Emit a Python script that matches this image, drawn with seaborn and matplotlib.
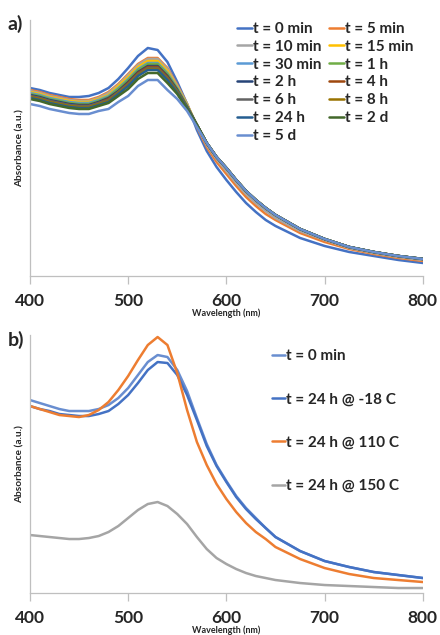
"""UV-vis absorbance spectra: a) stability over time, b) after 24 h at different temperatures."""
from matplotlib import pyplot as plt
import pandas as pd
import seaborn as sns


wavelength = [400, 410, 420, 430, 440, 450, 460, 470, 480, 490, 500, 510, 520, 530, 540,
              550, 560, 570, 580, 590, 600, 610, 620, 630, 640, 650, 675, 700, 725, 750,
              775, 800]

# panel a: absorbance (a.u.)
time_labels = ["t = 0 min", "t = 5 min", "t = 10 min", "t = 15 min", "t = 30 min",
               "t = 1 h", "t = 2 h", "t = 4 h", "t = 6 h", "t = 8 h",
               "t = 24 h", "t = 2 d", "t = 5 d"]
abs_0min = [1.88, 1.86, 1.83, 1.81, 1.79, 1.79, 1.80, 1.83, 1.88, 1.97, 2.08, 2.20, 2.28,
            2.26, 2.14, 1.94, 1.72, 1.46, 1.25, 1.09, 0.96, 0.84, 0.73, 0.64, 0.56, 0.50,
            0.38, 0.30, 0.24, 0.20, 0.16, 0.13]
abs_5min = [1.86, 1.84, 1.81, 1.79, 1.77, 1.76, 1.76, 1.79, 1.84, 1.92, 2.02, 2.12, 2.18,
            2.18, 2.08, 1.91, 1.72, 1.49, 1.29, 1.14, 1.02, 0.90, 0.79, 0.70, 0.62, 0.56,
            0.43, 0.34, 0.27, 0.22, 0.18, 0.15]
abs_10min = [1.85, 1.83, 1.80, 1.78, 1.76, 1.75, 1.75, 1.78, 1.83, 1.91, 2.01, 2.11, 2.17,
             2.17, 2.07, 1.90, 1.72, 1.50, 1.31, 1.17, 1.05, 0.93, 0.82, 0.73, 0.65, 0.58,
             0.45, 0.36, 0.28, 0.23, 0.19, 0.16]
abs_15min = [1.84, 1.82, 1.79, 1.77, 1.75, 1.74, 1.74, 1.77, 1.81, 1.90, 1.99, 2.09, 2.15,
             2.15, 2.05, 1.89, 1.71, 1.51, 1.33, 1.19, 1.08, 0.96, 0.85, 0.76, 0.68, 0.61,
             0.47, 0.37, 0.29, 0.24, 0.20, 0.17]
abs_30min = [1.83, 1.81, 1.78, 1.76, 1.74, 1.73, 1.73, 1.76, 1.80, 1.88, 1.97, 2.07, 2.13,
             2.13, 2.03, 1.88, 1.70, 1.51, 1.33, 1.19, 1.08, 0.96, 0.85, 0.76, 0.68, 0.61,
             0.47, 0.37, 0.29, 0.24, 0.20, 0.17]
abs_1h = [1.82, 1.80, 1.77, 1.75, 1.73, 1.72, 1.72, 1.75, 1.79, 1.87, 1.96, 2.06, 2.12,
          2.12, 2.02, 1.87, 1.70, 1.51, 1.33, 1.19, 1.08, 0.96, 0.85, 0.76, 0.68, 0.61,
          0.47, 0.37, 0.29, 0.24, 0.20, 0.17]
abs_2h = [1.81, 1.79, 1.76, 1.74, 1.72, 1.71, 1.71, 1.74, 1.78, 1.85, 1.94, 2.04, 2.10,
          2.10, 2.00, 1.86, 1.69, 1.51, 1.33, 1.19, 1.08, 0.96, 0.85, 0.76, 0.68, 0.61,
          0.47, 0.37, 0.29, 0.24, 0.20, 0.17]
abs_4h = [1.80, 1.78, 1.75, 1.73, 1.71, 1.70, 1.70, 1.73, 1.77, 1.84, 1.93, 2.03, 2.09,
          2.09, 1.99, 1.85, 1.69, 1.51, 1.33, 1.19, 1.08, 0.96, 0.85, 0.76, 0.68, 0.61,
          0.47, 0.37, 0.29, 0.24, 0.20, 0.17]
abs_6h = [1.80, 1.78, 1.75, 1.73, 1.71, 1.70, 1.70, 1.73, 1.76, 1.84, 1.92, 2.02, 2.08,
          2.08, 1.98, 1.85, 1.69, 1.51, 1.33, 1.19, 1.08, 0.96, 0.85, 0.76, 0.68, 0.61,
          0.47, 0.37, 0.29, 0.24, 0.20, 0.17]
abs_8h = [1.79, 1.77, 1.74, 1.72, 1.70, 1.69, 1.69, 1.72, 1.75, 1.83, 1.91, 2.01, 2.07,
          2.07, 1.97, 1.84, 1.68, 1.51, 1.33, 1.19, 1.08, 0.96, 0.85, 0.76, 0.68, 0.61,
          0.47, 0.37, 0.29, 0.24, 0.20, 0.17]
abs_24h = [1.78, 1.76, 1.73, 1.71, 1.69, 1.68, 1.68, 1.71, 1.74, 1.82, 1.90, 2.00, 2.06,
           2.06, 1.96, 1.83, 1.68, 1.51, 1.33, 1.19, 1.08, 0.96, 0.85, 0.76, 0.68, 0.61,
           0.47, 0.37, 0.29, 0.24, 0.20, 0.17]
abs_2d = [1.77, 1.75, 1.72, 1.70, 1.68, 1.67, 1.67, 1.70, 1.73, 1.80, 1.87, 1.97, 2.03,
          2.03, 1.93, 1.82, 1.67, 1.51, 1.33, 1.19, 1.08, 0.96, 0.85, 0.76, 0.68, 0.61,
          0.47, 0.37, 0.29, 0.24, 0.20, 0.17]
abs_5d = [1.72, 1.70, 1.67, 1.65, 1.63, 1.62, 1.62, 1.65, 1.67, 1.74, 1.80, 1.90, 1.96,
          1.96, 1.86, 1.77, 1.65, 1.49, 1.33, 1.19, 1.08, 0.96, 0.85, 0.76, 0.68, 0.61,
          0.47, 0.37, 0.29, 0.24, 0.20, 0.17]
time_colors = ["#4472C4", "#ED7D31", "#A5A5A5", "#FFC000", "#5B9BD5", "#70AD47",
               "#264478", "#9E480E", "#636363", "#997300", "#255E91", "#43682B",
               "#698ED0"]

# panel b
temp_labels = ["t = 0 min", "t = 24 h @ -18 C", "t = 24 h @ 110 C", "t = 24 h @ 150 C"]
abs_ref = [1.93, 1.90, 1.87, 1.84, 1.82, 1.82, 1.82, 1.84, 1.88, 1.95, 2.05, 2.18, 2.31,
           2.38, 2.36, 2.23, 2.02, 1.75, 1.49, 1.28, 1.12, 0.97, 0.85, 0.75, 0.65, 0.56,
           0.42, 0.32, 0.26, 0.21, 0.18, 0.15]
abs_m18 = [1.87, 1.84, 1.82, 1.79, 1.78, 1.77, 1.77, 1.79, 1.82, 1.89, 1.98, 2.10, 2.23,
           2.31, 2.30, 2.18, 1.98, 1.73, 1.47, 1.27, 1.11, 0.96, 0.84, 0.74, 0.65, 0.56,
           0.42, 0.32, 0.26, 0.21, 0.18, 0.15]
abs_110 = [1.87, 1.84, 1.81, 1.78, 1.77, 1.76, 1.78, 1.83, 1.91, 2.03, 2.17, 2.33, 2.48,
           2.56, 2.48, 2.20, 1.83, 1.51, 1.28, 1.09, 0.94, 0.81, 0.70, 0.61, 0.54, 0.46,
           0.34, 0.25, 0.19, 0.15, 0.13, 0.11]
abs_150 = [0.58, 0.57, 0.56, 0.55, 0.54, 0.54, 0.55, 0.57, 0.61, 0.67, 0.75, 0.83, 0.89,
           0.91, 0.87, 0.79, 0.69, 0.56, 0.44, 0.35, 0.29, 0.24, 0.20, 0.17, 0.15, 0.13,
           0.10, 0.08, 0.07, 0.06, 0.05, 0.05]
temp_colors = ["#698ED0", "#4472C4", "#ED7D31", "#A5A5A5"]


def long_df(labels, series):
    rows = []
    for lab, vals in zip(labels, series):
        for w, v in zip(wavelength, vals):
            rows.append({"Wavelength": w, "Absorbance": v, "Sample": lab})
    return pd.DataFrame(rows)


df_a = long_df(time_labels, [abs_0min, abs_5min, abs_10min, abs_15min, abs_30min, abs_1h,
                             abs_2h, abs_4h, abs_6h, abs_8h, abs_24h, abs_2d, abs_5d])
df_b = long_df(temp_labels, [abs_ref, abs_m18, abs_110, abs_150])

sns.set_style("white")
plt.rcParams["font.family"] = ["Lato", "DejaVu Sans"]
plt.rcParams["font.weight"] = "bold"

fig = plt.figure(figsize=(4.4, 6.35), dpi=100)
ax_a = fig.add_axes([0.068, 0.5654, 0.893, 0.4031])
ax_b = fig.add_axes([0.068, 0.0661, 0.893, 0.4063])


def draw(ax, df, labels, colors, ylim):
    sns.lineplot(data=df, x="Wavelength", y="Absorbance", hue="Sample",
                 hue_order=labels, palette=colors, estimator=None, sort=False,
                 linewidth=1.8, legend=False, ax=ax)
    for line in ax.get_lines():
        line.set_solid_joinstyle("round")
    ax.set_xlim(400, 800)
    ax.set_ylim(*ylim)
    ax.set_xticks([400, 500, 600, 700, 800])
    ax.set_yticks([])
    ax.tick_params(axis="x", direction="out", length=6, width=0.9, color="#BFBFBF",
                   labelsize=12.5, pad=6, bottom=True)
    for lab in ax.get_xticklabels():
        lab.set_fontweight("bold")
    ax.set_xlabel("Wavelength (nm)", fontsize=6.5, fontweight="bold", labelpad=0)
    ax.set_ylabel("Absorbance (a.u.)", fontsize=7.3, fontweight="bold", labelpad=4)
    sns.despine(ax=ax)
    for side in ("left", "bottom"):
        ax.spines[side].set_color("#BFBFBF")
        ax.spines[side].set_linewidth(0.9)


draw(ax_a, df_a, time_labels, time_colors, (0, 2.56))
draw(ax_b, df_b, temp_labels, temp_colors, (0, 2.58))

# legend a: Excel fills rows first, matplotlib fills columns
lines_a = ax_a.get_lines()
order = [0, 2, 4, 6, 8, 10, 12, 1, 3, 5, 7, 9, 11]
ax_a.legend([lines_a[i] for i in order], [time_labels[i] for i in order],
            ncol=2, frameon=False, loc="upper left",
            bbox_to_anchor=(237 / 440, 1 - 22 / 635), bbox_transform=fig.transFigure,
            borderaxespad=0, borderpad=0, handlelength=1.0, handletextpad=0.05,
            columnspacing=0.5, labelspacing=0.25,
            prop={"size": 11, "weight": "bold"})

ax_b.legend(ax_b.get_lines(), temp_labels, frameon=False, loc="upper left",
            bbox_to_anchor=(272 / 440, 1 - 349 / 635), bbox_transform=fig.transFigure,
            borderaxespad=0, borderpad=0, handlelength=0.85, handletextpad=0.05,
            labelspacing=1.92, prop={"size": 11, "weight": "bold"})

fig.text(0.018, 1 - 24 / 635, "a)", fontsize=14, fontweight="bold", va="center")
fig.text(0.018, 1 - 340 / 635, "b)", fontsize=14, fontweight="bold", va="center")

fig.savefig("out.png", dpi=100)
